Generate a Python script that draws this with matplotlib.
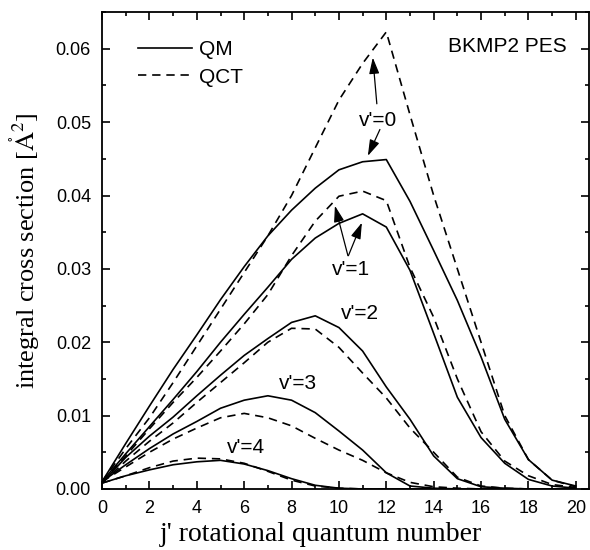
import numpy as np
import matplotlib.pyplot as plt
from matplotlib.ticker import MultipleLocator

j = np.arange(0, 21)

# QM (solid) and QCT (dashed) integral cross sections per vibrational level v'
qm_v0 = [0.0010, 0.0062, 0.0113, 0.0163, 0.0210, 0.0258, 0.0303, 0.0345, 0.0380, 0.0410, 0.0435,
         0.0446, 0.0449, 0.0392, 0.0325, 0.0257, 0.0180, 0.0095, 0.0040, 0.0012, 0.0004]
qct_v0 = [0.0010, 0.0055, 0.0097, 0.0145, 0.0195, 0.0245, 0.0295, 0.0345, 0.0400, 0.0465, 0.0530,
          0.0580, 0.0623, 0.0510, 0.0400, 0.0300, 0.0200, 0.0100, 0.0040, 0.0012, 0.0003]
qm_v1 = [0.0010, 0.0048, 0.0085, 0.0122, 0.0160, 0.0200, 0.0238, 0.0275, 0.0313, 0.0342, 0.0362,
         0.0375, 0.0357, 0.0298, 0.0212, 0.0125, 0.0070, 0.0035, 0.0013, 0.0004, 0.0001]
qct_v1 = [0.0010, 0.0045, 0.0082, 0.0118, 0.0152, 0.0188, 0.0225, 0.0265, 0.0318, 0.0365, 0.0399,
          0.0406, 0.0393, 0.0302, 0.0234, 0.0150, 0.0078, 0.0038, 0.0018, 0.0006, 0.0002]
qm_v2 = [0.0008, 0.0043, 0.0072, 0.0098, 0.0127, 0.0155, 0.0182, 0.0205, 0.0227, 0.0236, 0.0220,
         0.0188, 0.0139, 0.0095, 0.0045, 0.0014, 0.0003, 0.0001, 0.0, 0.0, 0.0]
qct_v2 = [0.0008, 0.0038, 0.0065, 0.0090, 0.0118, 0.0145, 0.0172, 0.0200, 0.0219, 0.0218, 0.0193,
          0.0158, 0.0124, 0.0083, 0.0050, 0.0016, 0.0004, 0.0001, 0.0, 0.0, 0.0]
qm_v3 = [0.0010, 0.0033, 0.0055, 0.0075, 0.0092, 0.0110, 0.0121, 0.0127, 0.0121, 0.0104, 0.0079,
         0.0053, 0.0022, 0.0004, 0.0001, 0.0, 0.0, 0.0, 0.0, 0.0, 0.0]
qct_v3 = [0.0010, 0.0030, 0.0050, 0.0068, 0.0083, 0.0097, 0.0103, 0.0097, 0.0086, 0.0069, 0.0053,
          0.0039, 0.0022, 0.0009, 0.0003, 0.0001, 0.0, 0.0, 0.0, 0.0, 0.0]
qm_v4 = [0.0008, 0.0018, 0.0026, 0.0033, 0.0037, 0.0039, 0.0034, 0.0025, 0.0014, 0.0005, 0.0001,
         0.0, 0.0, 0.0, 0.0, 0.0, 0.0, 0.0, 0.0, 0.0, 0.0]
qct_v4 = [0.0008, 0.0018, 0.0029, 0.0038, 0.0042, 0.0041, 0.0035, 0.0024, 0.0012, 0.0004, 0.0001,
          0.0, 0.0, 0.0, 0.0, 0.0, 0.0, 0.0, 0.0, 0.0, 0.0]

qm = [qm_v0, qm_v1, qm_v2, qm_v3, qm_v4]
qct = [qct_v0, qct_v1, qct_v2, qct_v3, qct_v4]

sans = 'Liberation Sans'
serif = 'Liberation Serif'
plt.rcParams['mathtext.fontset'] = 'stix'

fig = plt.figure(figsize=(5.9, 5.5), dpi=100)
ax = fig.add_axes([0.173, 0.111, 0.825, 0.867])

for k in range(5):
    ax.plot(j, qm[k], color='black', lw=1.2, ls='-', label='QM' if k == 0 else None)
    ax.plot(j, qct[k], color='black', lw=1.2, ls=(0, (5, 3.5)), label='QCT' if k == 0 else None)

ax.set_xlim(0, 20.55)
ax.set_ylim(0, 0.065)
ax.xaxis.set_major_locator(MultipleLocator(2))
ax.xaxis.set_minor_locator(MultipleLocator(1))
ax.yaxis.set_major_locator(MultipleLocator(0.01))
ax.yaxis.set_minor_locator(MultipleLocator(0.005))
ax.yaxis.set_major_formatter(plt.FuncFormatter(lambda v, p: f'{v:.2f}'))
ax.tick_params(which='both', direction='in', top=True, right=True, width=1.2)
ax.tick_params(which='major', length=6, labelsize=13)
ax.tick_params(which='minor', length=3)
ax.tick_params(axis='y', which='major', pad=8)
ax.tick_params(axis='x', which='major', pad=8)
for lab in ax.get_xticklabels() + ax.get_yticklabels():
    lab.set_family(sans)
for s in ax.spines.values():
    s.set_linewidth(1.3)

ax.set_xlabel("j' rotational quantum number", family=serif, fontsize=20)
ax.xaxis.set_label_coords(0.45, -0.07)
ax.set_ylabel(r"integral cross section [$\mathring{\mathrm{A}}^2$]", family=serif, fontsize=19)
ax.yaxis.set_label_coords(-0.123, 0.5)

leg = ax.legend(loc='upper left', bbox_to_anchor=(0.035, 0.98), frameon=False,
                prop={'family': sans, 'size': 15}, handlelength=2.6, handletextpad=0.35,
                labelspacing=0.4)

ax.text(0.955, 0.928, 'BKMP2 PES', transform=ax.transAxes, ha='right', va='center',
        family=sans, fontsize=15)

tk = dict(family=sans, fontsize=15, ha='center', va='center')
arr = dict(arrowstyle='-|>,head_length=0.7,head_width=0.22', color='black', lw=0.9,
           mutation_scale=14, shrinkA=0, shrinkB=0)
ax.text(11.65, 0.0502, "v'=0", **tk)
ax.annotate('', xy=(11.43, 0.0588), xytext=(11.6, 0.0525), arrowprops=arr)
ax.annotate('', xy=(11.22, 0.0454), xytext=(11.73, 0.0490), arrowprops=arr)
ax.text(10.5, 0.0299, "v'=1", **tk)
ax.annotate('', xy=(9.83, 0.0386), xytext=(10.38, 0.0318), arrowprops=arr)
ax.annotate('', xy=(10.97, 0.0363), xytext=(10.4, 0.0318), arrowprops=arr)
ax.text(10.9, 0.0239, "v'=2", **tk)
ax.text(8.27, 0.0144, "v'=3", **tk)
ax.text(6.08, 0.0057, "v'=4", **tk)

fig.savefig('out.png', dpi=100)
